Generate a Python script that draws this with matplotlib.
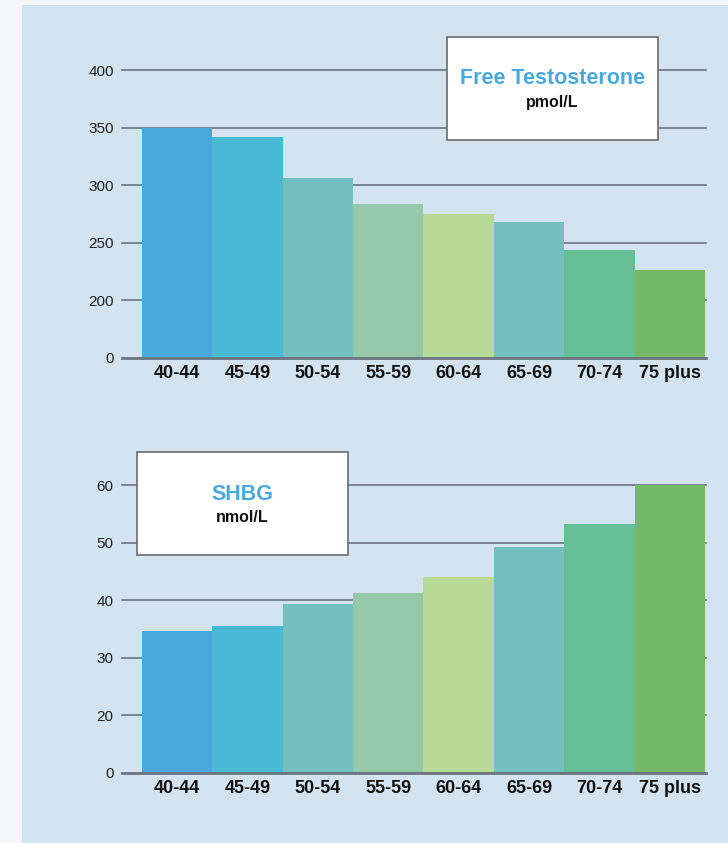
import matplotlib.pyplot as plt
from matplotlib.patches import Rectangle

plt.rcParams['font.family'] = ['Liberation Sans', 'DejaVu Sans']

ages = ["40-44", "45-49", "50-54", "55-59", "60-64", "65-69", "70-74", "75 plus"]
free_t = [350, 342, 306, 284, 275, 268, 244, 226]
shbg = [34.6, 35.6, 39.4, 41.3, 44.0, 49.3, 53.2, 60.0]

# broken axes: the "0" label sits one step below the lowest real tick
ft_ticks = [150, 200, 250, 300, 350, 400]
ft_labels = ["0", "200", "250", "300", "350", "400"]
sh_ticks = [10, 20, 30, 40, 50, 60]
sh_labels = ["0", "20", "30", "40", "50", "60"]

colors = ["#4aa9dc", "#4ab9d4", "#74c0c0", "#96c8aa", "#b8da98",
          "#74c0c0", "#66be96", "#74b868"]
bg = "#d3e3f0"
grid_c = "#6b7480"
title_c = "#4aa9dc"

fig = plt.figure(figsize=(7.28, 8.43), dpi=100)
fig.patch.set_facecolor("#f4f7fb")
fig.patches.append(Rectangle((22 / 728, 0), 1, 1 - 5 / 843, transform=fig.transFigure,
                             facecolor=bg, edgecolor="none", zorder=-10))


def draw(ax, vals, ticks, labels, box, title, unit):
    x = range(len(ages))
    ax.bar(x, vals, width=1.0, color=colors, zorder=2)
    ax.set_xlim(-0.784, 7.515)
    ax.set_ylim(ticks[0], ticks[-1])
    ax.set_yticks(ticks)
    ax.set_yticklabels(labels, fontsize=11, color="#222222")
    ax.set_xticks(list(x))
    ax.set_xticklabels(ages, fontsize=13, fontweight="bold", color="#111111",
                       family=["Liberation Sans Narrow", "Liberation Sans"])
    ax.tick_params(axis="y", length=0, pad=6)
    ax.tick_params(axis="x", length=0, pad=5)
    for t in ticks[1:]:
        ax.axhline(t, color=grid_c, lw=1.2, zorder=1, clip_on=False)
    ax.axhline(ticks[0], color=grid_c, lw=2, zorder=3, clip_on=False)
    ax.set_facecolor("none")
    for s in ax.spines.values():
        s.set_visible(False)
    ax.set_axisbelow(True)
    # label box
    x0, y0, x1, y1 = box
    fig.patches.append(Rectangle((x0 / 728, 1 - y1 / 843), (x1 - x0) / 728, (y1 - y0) / 843,
                                 transform=fig.transFigure, facecolor="white",
                                 edgecolor="#6b6b6b", lw=1.2, zorder=5))
    cx = (x0 + x1) / 2 / 728
    fig.text(cx, 1 - (y0 + 42) / 843, title, ha="center", va="center",
             fontsize=15.5, fontweight="bold", color=title_c, zorder=6)
    fig.text(cx, 1 - (y0 + 65) / 843, unit, ha="center", va="center",
             fontsize=11.5, fontweight="bold", color="#111111", zorder=6)


ax1 = fig.add_axes([122 / 728, 1 - 358 / 843, 584 / 728, 288 / 843])
draw(ax1, free_t, ft_ticks, ft_labels, (447, 37, 658, 140), "Free Testosterone", "pmol/L")

ax2 = fig.add_axes([122 / 728, 1 - 773 / 843, 584 / 728, 288 / 843])
draw(ax2, shbg, sh_ticks, sh_labels, (137, 452, 348, 555), "SHBG", "nmol/L")

fig.savefig("out.png", dpi=100, facecolor=fig.get_facecolor())
